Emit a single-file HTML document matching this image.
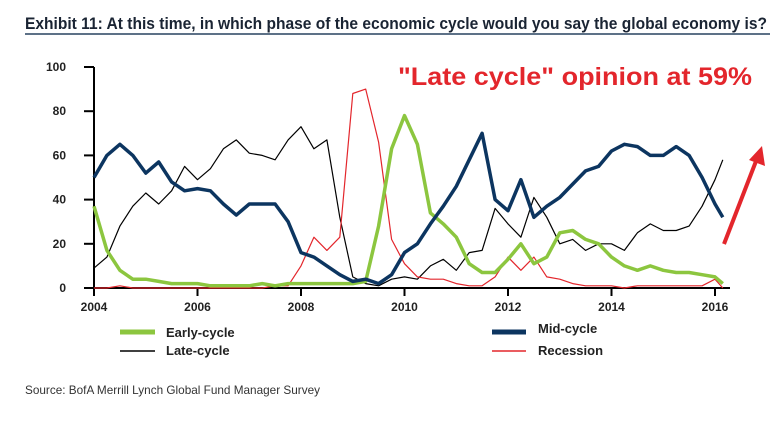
<!DOCTYPE html>
<html><head><meta charset="utf-8"><style>
body{margin:0;background:#fff;width:783px;height:420px;overflow:hidden;font-family:"Liberation Sans",Arial,sans-serif}
</style></head><body>
<svg id="chart" width="783" height="420" xmlns="http://www.w3.org/2000/svg">
<text x="25" y="29" font-family="Liberation Sans" font-weight="bold" font-size="16.5" fill="#1a2433" textLength="742" lengthAdjust="spacingAndGlyphs">Exhibit 11: At this time, in which phase of the economic cycle would you say the global economy is?</text>
<line x1="25" y1="34" x2="770" y2="34" stroke="#5d7187" stroke-width="2"/>
<g id="axes"></g>
<g id="series"></g>
<text x="398" y="85" font-weight="bold" font-size="25" fill="#e3262c" textLength="354" lengthAdjust="spacingAndGlyphs">"Late cycle" opinion at 59%</text>
<line x1="724" y1="244" x2="758" y2="156" stroke="#e3262c" stroke-width="4"/>
<polygon points="762,146 765,166 749,160" fill="#e3262c"/>
<g font-weight="bold" font-size="13" fill="#222">
<line x1="120" y1="332" x2="155" y2="332" stroke="#8cc63f" stroke-width="5"/>
<text x="166" y="337">Early-cycle</text>
<line x1="120" y1="351" x2="155" y2="351" stroke="#000" stroke-width="1.5"/>
<text x="166" y="355">Late-cycle</text>
<line x1="492" y1="332" x2="526" y2="332" stroke="#0c3560" stroke-width="5"/>
<text x="538" y="333">Mid-cycle</text>
<line x1="492" y1="351" x2="526" y2="351" stroke="#e3262c" stroke-width="1.5"/>
<text x="538" y="355">Recession</text>
</g>
<text x="25" y="394" font-size="12" fill="#333" textLength="295" lengthAdjust="spacingAndGlyphs">Source: BofA Merrill Lynch Global Fund Manager Survey</text>
</svg>
<script>
const years=[2004,2004.25,2004.5,2004.75,2005,2005.25,2005.5,2005.75,2006,2006.25,2006.5,2006.75,2007,2007.25,2007.5,2007.75,2008,2008.25,2008.5,2008.75,2009,2009.25,2009.5,2009.75,2010,2010.25,2010.5,2010.75,2011,2011.25,2011.5,2011.75,2012,2012.25,2012.5,2012.75,2013,2013.25,2013.5,2013.75,2014,2014.25,2014.5,2014.75,2015,2015.25,2015.5,2015.75,2016,2016.15];
const early=[37,17,8,4,4,3,2,2,2,1,1,1,1,2,1,2,2,2,2,2,2,3,28,63,78,65,34,29,23,11,7,7,13,20,11,14,25,26,22,20,14,10,8,10,8,7,7,6,5,2];
const late=[9,14,28,37,43,38,44,55,49,54,63,67,61,60,58,67,73,63,67,32,5,2,1,4,5,4,10,13,8,16,17,36,29,23,41,32,20,22,17,20,20,17,25,29,26,26,28,37,49,58];
const mid=[50,60,65,60,52,57,48,44,45,44,38,33,38,38,38,30,16,14,10,6,3,4,2,6,16,20,29,37,46,58,70,40,35,49,32,37,41,47,53,55,62,65,64,60,60,64,60,50,38,32];
const recession=[0,0,1,0,0,0,0,0,0,0,0,0,0,0,1,1,10,23,17,23,88,90,66,22,11,5,4,4,2,1,1,5,14,8,14,5,4,2,1,1,1,0,1,1,1,1,1,1,4,0];
const yTicks=[0,20,40,60,80,100];
const xTicks=[2004,2006,2008,2010,2012,2014,2016];
const NS='http://www.w3.org/2000/svg';
const X=t=>94+(t-2004)*51.75, Y=v=>288-v*2.21;
const ax=document.getElementById('axes'), sg=document.getElementById('series');
function mk(tag,attrs,parent){const e=document.createElementNS(NS,tag);for(const k in attrs)e.setAttribute(k,attrs[k]);parent.appendChild(e);return e;}
let l=mk('line',{x1:94,y1:Y(100),x2:94,y2:288,stroke:'#000','stroke-width':2},ax);


l=mk('line',{x1:93,y1:288,x2:730,y2:288,stroke:'#000','stroke-width':2},ax);


yTicks.forEach(v=>{const t=mk('line',{x1:84,y1:Y(v),x2:94,y2:Y(v),stroke:'#000','stroke-width':2},ax);


const tx=mk('text',{x:66,y:Y(v)+4,'text-anchor':'end','font-size':12,'font-weight':'bold',fill:'#222'},ax);tx.textContent=v;

});
xTicks.forEach(v=>{const t=mk('line',{x1:X(v),y1:288,x2:X(v),y2:296,stroke:'#000','stroke-width':2},ax);


const tx=mk('text',{x:X(v),y:311,'text-anchor':'middle','font-size':12,'font-weight':'bold',fill:'#222'},ax);tx.textContent=v;

});
function line(vals,color,w,name){const d=vals.map((v,i)=>(i?'L':'M')+X(years[i]).toFixed(1)+' '+Y(v).toFixed(1)).join(' ');
const p=mk('path',{d:d,fill:'none',stroke:color,'stroke-width':w,'stroke-linejoin':'round'},sg);

}
line(late,'#000',1.2,'late-cycle-line');
line(recession,'#e3262c',1.2,'recession-line');
line(early,'#8cc63f',3.5,'early-cycle-line');
line(mid,'#0c3560',3.5,'mid-cycle-line');
</script>
</body></html>
